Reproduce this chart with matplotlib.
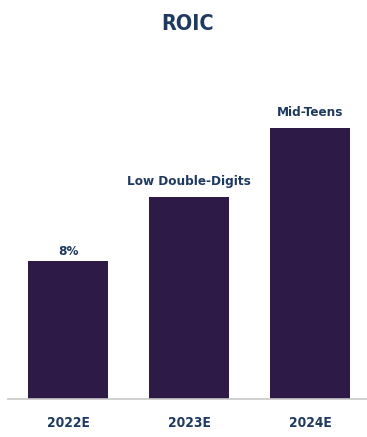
import matplotlib
matplotlib.use("Agg")
import matplotlib.pyplot as plt
from matplotlib import font_manager
from matplotlib.font_manager import FontProperties

categories = ["2022E", "2023E", "2024E"]
values = [8.0, 11.7, 15.7]
bar_labels = ["8%", "Low Double-Digits", "Mid-Teens"]
title = "ROIC"


def weight_num(f):
    if isinstance(f.weight, int):
        return f.weight
    return {"bold": 700, "semibold": 600, "demibold": 600, "extra bold": 800, "heavy": 900}.get(str(f.weight), 400)


# pick a bold condensed sans font if one is installed
cands = []
for f in font_manager.fontManager.ttflist:
    w = weight_num(f)
    if f.stretch in ("condensed", "semi-condensed", "extra-condensed") and 700 <= w <= 800 and f.style == "normal":
        cands.append(f)
pref = ["Noto Sans", "Open Sans", "Roboto", "DejaVu Sans", "Liberation Sans Narrow"]
stretch_rank = {"condensed": 0, "extra-condensed": 1, "semi-condensed": 2}
cands.sort(key=lambda f: (abs(weight_num(f) - 700), stretch_rank.get(f.stretch, 9),
                          pref.index(f.name) if f.name in pref else 99))
if cands:
    def fp(size):
        return FontProperties(fname=cands[0].fname, size=size)
else:
    def fp(size):
        return FontProperties(family=["Lato", "DejaVu Sans"], weight="bold", size=size * 0.85)

W, H = 367, 437
fig = plt.figure(figsize=(W / 100, H / 100), dpi=100)
bottom_px, top_px = 399, 59
ax = fig.add_axes([8 / W, 1 - bottom_px / H, 1 - 8 / W, (bottom_px - top_px) / H])

bar_color = "#2e1a47"
text_color = "#1f3a60"
px_per_unit = (399 - 261) / 8.0
x = list(range(len(categories)))
bars = ax.bar(x, values, width=0.66, color=bar_color)
ax.set_xlim(-0.496, 2.47)
ax.set_ylim(0, (bottom_px - top_px) / px_per_unit)

label_gaps = [6, 12, 12]  # pixels between label baseline and bar top
for b, lab, gap in zip(bars, bar_labels, label_gaps):
    ax.annotate(lab, (b.get_x() + b.get_width() / 2, b.get_height()),
                xytext=(0, gap * 0.72), textcoords="offset points", ha="center", va="baseline",
                fontproperties=fp(9.6), color=text_color)

for s in ["top", "right", "left"]:
    ax.spines[s].set_visible(False)
ax.spines["bottom"].set_color("#c8c8c8")
ax.spines["bottom"].set_linewidth(1.2)
ax.set_yticks([])
ax.set_xticks(x)
ax.set_xticklabels(categories, fontproperties=fp(9.8), color=text_color)
ax.tick_params(axis="x", length=0, pad=12)

fig.text(0.5 + 4 / W, 1 - 24.5 / H, title, ha="center", va="center",
         fontproperties=fp(15.5), color=text_color)

fig.savefig("out.png", dpi=100)
